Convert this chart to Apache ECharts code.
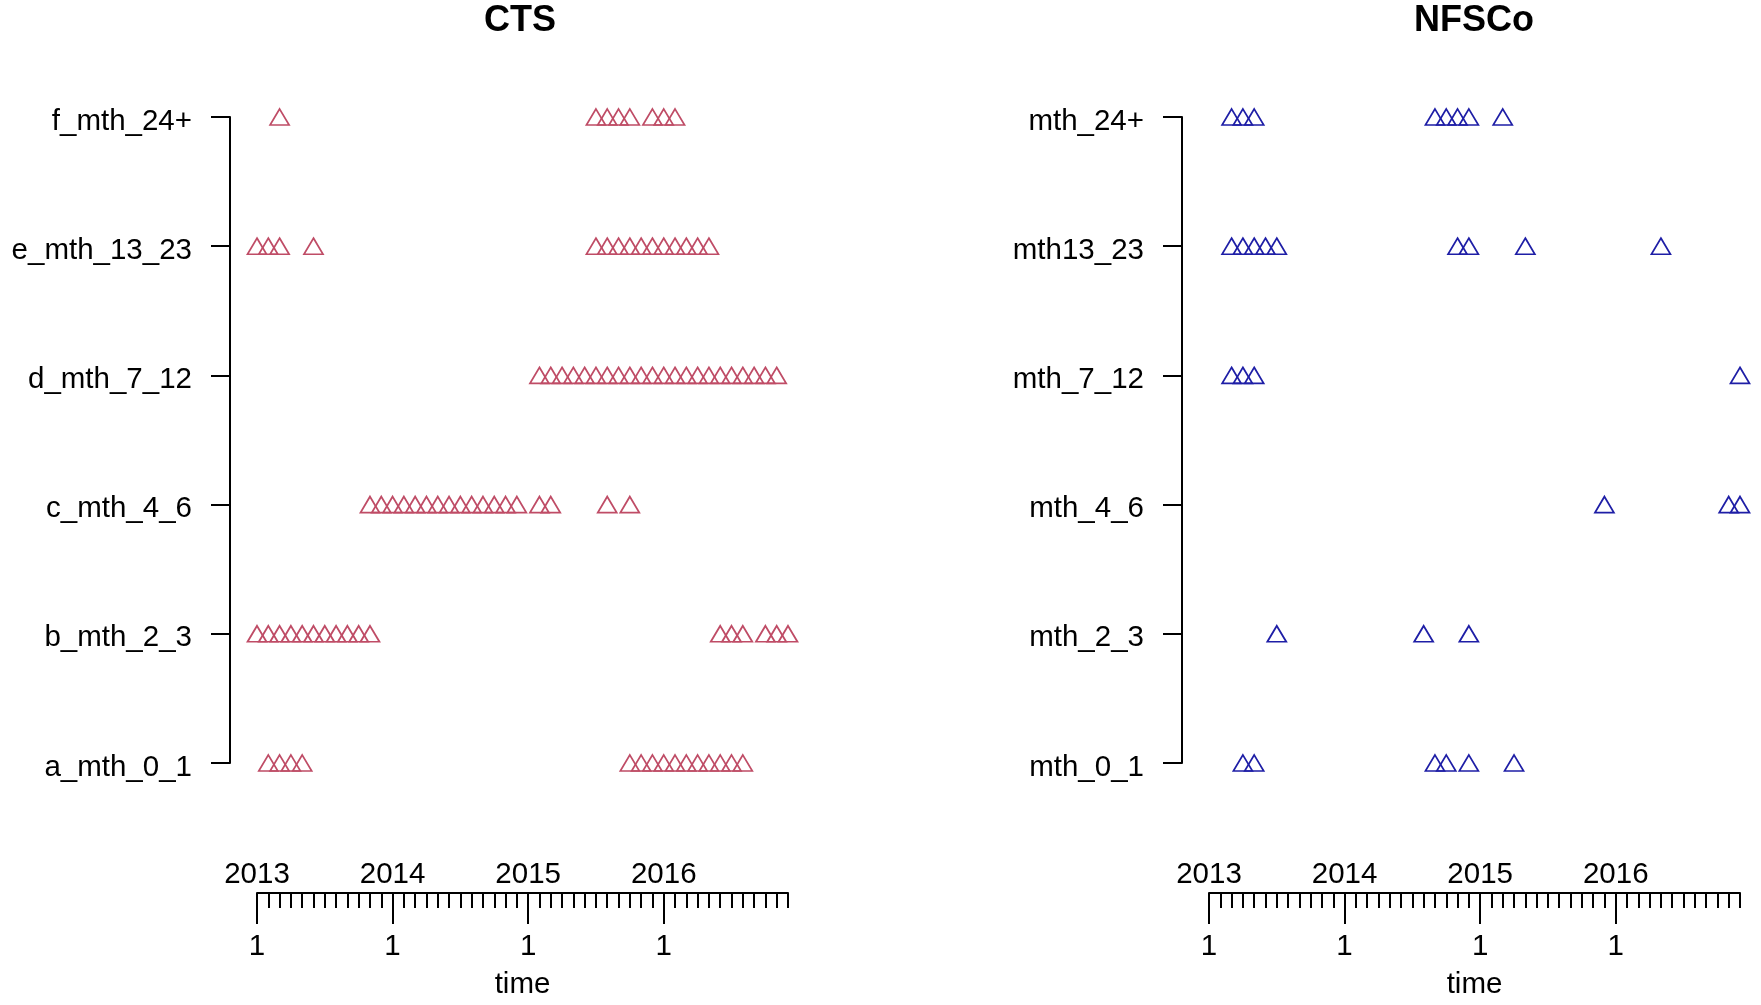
<!DOCTYPE html>
<html>
<head>
<meta charset="utf-8">
<script src="https://cdn.jsdelivr.net/npm/echarts@6/dist/echarts.min.js"></script>
<style>
  html, body { margin: 0; padding: 0; background: #fff; }
  #chart { width: 1761px; height: 1005px; }
</style>
</head>
<body>
<div id="chart"></div>
<script>
// ---------------- DATA ----------------
const ctsTitle = 'CTS';
const nfscoTitle = 'NFSCo';
const ctsCategories = ['a_mth_0_1', 'b_mth_2_3', 'c_mth_4_6', 'd_mth_7_12', 'e_mth_13_23', 'f_mth_24+'];
const nfscoCategories = ['mth_0_1', 'mth_2_3', 'mth_4_6', 'mth_7_12', 'mth13_23', 'mth_24+'];

// axis tick labels
const yearLabels = ['2013', '2014', '2015', '2016'];
const monthLabels = ['1', '1', '1', '1'];
const axisStart = '2013-01';
const axisEnd = '2016-12';
const axisTitle = 'time';

// CTS observation months per row
const cts_a = ['2013-02', '2013-03', '2013-04', '2013-05',
  '2015-10', '2015-11', '2015-12', '2016-01', '2016-02', '2016-03', '2016-04', '2016-05', '2016-06', '2016-07', '2016-08'];
const cts_b = ['2013-01', '2013-02', '2013-03', '2013-04', '2013-05', '2013-06', '2013-07', '2013-08', '2013-09', '2013-10', '2013-11',
  '2016-06', '2016-07', '2016-08', '2016-10', '2016-11', '2016-12'];
const cts_c = ['2013-11', '2013-12', '2014-01', '2014-02', '2014-03', '2014-04', '2014-05', '2014-06', '2014-07', '2014-08', '2014-09', '2014-10', '2014-11', '2014-12',
  '2015-02', '2015-03', '2015-08', '2015-10'];
const cts_d = ['2015-02', '2015-03', '2015-04', '2015-05', '2015-06', '2015-07', '2015-08', '2015-09', '2015-10', '2015-11', '2015-12',
  '2016-01', '2016-02', '2016-03', '2016-04', '2016-05', '2016-06', '2016-07', '2016-08', '2016-09', '2016-10', '2016-11'];
const cts_e = ['2013-01', '2013-02', '2013-03', '2013-06',
  '2015-07', '2015-08', '2015-09', '2015-10', '2015-11', '2015-12', '2016-01', '2016-02', '2016-03', '2016-04', '2016-05'];
const cts_f = ['2013-03', '2015-07', '2015-08', '2015-09', '2015-10', '2015-12', '2016-01', '2016-02'];

// NFSCo observation months per row
const nfsco_0_1 = ['2013-04', '2013-05', '2014-09', '2014-10', '2014-12', '2015-04'];
const nfsco_2_3 = ['2013-07', '2014-08', '2014-12'];
const nfsco_4_6 = ['2015-12', '2016-11', '2016-12'];
const nfsco_7_12 = ['2013-03', '2013-04', '2013-05', '2016-12'];
const nfsco_13_23 = ['2013-03', '2013-04', '2013-05', '2013-06', '2013-07', '2014-11', '2014-12', '2015-05', '2016-05'];
const nfsco_24p = ['2013-03', '2013-04', '2013-05', '2014-09', '2014-10', '2014-11', '2014-12', '2015-03'];

const ctsRows = [cts_a, cts_b, cts_c, cts_d, cts_e, cts_f];
const nfscoRows = [nfsco_0_1, nfsco_2_3, nfsco_4_6, nfsco_7_12, nfsco_13_23, nfsco_24p];

// ---------------- HELPERS ----------------
function monthIndex(s) {
  const [y, m] = s.split('-').map(Number);
  const [y0, m0] = axisStart.split('-').map(Number);
  return (y - y0) * 12 + (m - m0);
}
const xMax = monthIndex(axisEnd);
const yearTickValues = yearLabels.map(y => monthIndex(y + '-01'));

const FONT = 'Liberation Sans, Arial, Helvetica, sans-serif';
const BLACK = '#000';
const AXW = 2;

const panels = [
  { title: ctsTitle, cats: ctsCategories, rows: ctsRows, color: '#BF4C66', left: 257, width: 531, titleX: 520 },
  { title: nfscoTitle, cats: nfscoCategories, rows: nfscoRows, color: '#1E1EA6', left: 1209, width: 531, titleX: 1474 }
];

const gridTop = 117;
const gridHeight = 646;
const xOffset = 130;

const grids = [], xAxes = [], yAxes = [], series = [], graphics = [];

panels.forEach((p, i) => {
  grids.push({ left: p.left, top: gridTop, width: p.width, height: gridHeight, containLabel: false });

  yAxes.push({
    gridIndex: i, type: 'category', data: p.cats, boundaryGap: false, offset: 27,
    axisLine: { show: true, onZero: false, lineStyle: { color: BLACK, width: AXW } },
    axisTick: { show: true, length: 19, lineStyle: { color: BLACK, width: AXW } },
    axisLabel: { show: true, margin: 38, fontSize: 29.5, color: BLACK, fontFamily: FONT,
      verticalAlign: 'top', lineHeight: 9 },
    splitLine: { show: false }
  });

  // monthly ticks + axis line
  xAxes.push({
    gridIndex: i, type: 'value', min: 0, max: xMax, interval: 1, position: 'bottom', offset: xOffset,
    axisLine: { show: true, onZero: false, lineStyle: { color: BLACK, width: AXW } },
    axisTick: { show: true, length: 15, lineStyle: { color: BLACK, width: AXW } },
    axisLabel: { show: false }, splitLine: { show: false }
  });
  // yearly long ticks with "1" labels below
  xAxes.push({
    gridIndex: i, type: 'value', min: 0, max: xMax, interval: 12, position: 'bottom', offset: xOffset,
    axisLine: { show: false, onZero: false },
    axisTick: { show: true, length: 31, customValues: yearTickValues, lineStyle: { color: BLACK, width: AXW } },
    axisLabel: {
      show: true, customValues: yearTickValues, margin: 39, lineHeight: 30,
      fontSize: 29.5, color: BLACK, fontFamily: FONT,
      formatter: v => monthLabels[yearTickValues.indexOf(v)] ?? ''
    },
    splitLine: { show: false },
    name: axisTitle, nameLocation: 'middle', nameGap: 77,
    nameTextStyle: { fontSize: 29.5, color: BLACK, fontFamily: FONT, lineHeight: 30 }
  });
  // year labels above the axis line
  xAxes.push({
    gridIndex: i, type: 'value', min: 0, max: xMax, interval: 12, position: 'bottom', offset: xOffset,
    axisLine: { show: false, onZero: false }, axisTick: { show: false },
    axisLabel: {
      show: true, inside: true, customValues: yearTickValues, margin: 3, lineHeight: 30,
      fontSize: 29.5, color: BLACK, fontFamily: FONT,
      formatter: v => yearLabels[yearTickValues.indexOf(v)] ?? ''
    },
    splitLine: { show: false }
  });

  const data = [];
  p.rows.forEach((months, r) => {
    months.forEach(m => data.push([monthIndex(m), p.cats[r]]));
  });
  series.push({
    type: 'scatter', xAxisIndex: i * 3, yAxisIndex: i, data: data, clip: false,
    symbol: 'triangle', symbolSize: [19, 16],
    itemStyle: { color: 'rgba(0,0,0,0)', borderColor: p.color, borderWidth: 1.7, opacity: 1 },
    emphasis: { disabled: true }, silent: true
  });

  graphics.push({
    type: 'text', x: p.titleX, y: 21,
    style: { text: p.title, font: 'bold 36px ' + FONT, fill: BLACK, align: 'center', verticalAlign: 'middle' }
  });
});

const chart = echarts.init(document.getElementById('chart'), null, { renderer: 'canvas' });
chart.setOption({
  backgroundColor: '#fff',
  animation: false,
  grid: grids,
  xAxis: xAxes,
  yAxis: yAxes,
  series: series,
  graphic: graphics
});
</script>
</body>
</html>
